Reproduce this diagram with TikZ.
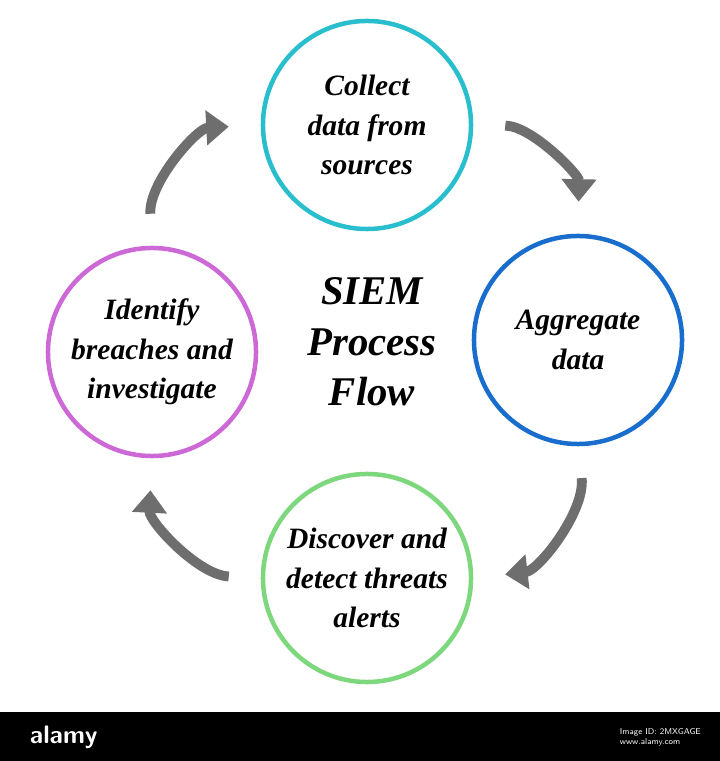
\documentclass[tikz,border=0pt]{standalone}
\usepackage{fontspec}
\setmainfont{Liberation Serif}
\usetikzlibrary{arrows.meta}
\definecolor{siemcyan}{RGB}{40,190,205}
\definecolor{siemblue}{RGB}{25,110,205}
\definecolor{siemgreen}{RGB}{125,215,125}
\definecolor{siemmagenta}{RGB}{205,105,215}
\definecolor{flowgray}{RGB}{110,110,110}
\tikzset{
  step/.style={circle, draw=#1, line width=3.2pt, minimum size=5.2cm, align=center,
    font=\fontsize{21}{28}\selectfont\bfseries\itshape},
  flow/.style={draw=flowgray, line width=7pt, -{Triangle[length=16pt,width=24pt]},
    shorten <=#1, shorten >=#1},
}
\begin{document}
\begin{tikzpicture}[x=0.025cm, y=0.025cm]
  \useasboundingbox (0,0) rectangle (720,761);
  \fill[white] (0,0) rectangle (720,761);
  % steps
  \node[step=siemcyan] (collect) at (367,636) {Collect\\data from\\sources};
  \node[step=siemblue] (aggregate) at (578,421) {Aggregate\\data};
  \node[step=siemgreen] (discover) at (367,183) {Discover and\\detect threats\\alerts};
  \node[step=siemmagenta] (identify) at (152,409) {Identify\\breaches and\\investigate};
  \node[font=\fontsize{29}{36}\selectfont\bfseries\itshape, align=center] (title) at (372,419)
    {SIEM\\Process\\Flow};
  % arrows
  \draw[flow=0.8cm] (identify.north) to[bend left=45] (collect.west);
  \draw[flow=0.8cm] (collect.east) to[bend left=45] (aggregate.north);
  \draw[flow=0.8cm] (aggregate.south) to[bend left=45] (discover.east);
  \draw[flow=0.8cm] (discover.west) to[bend left=45] (identify.south);
  % footer
  \fill[black] (0,0) rectangle (720,49);
  \node[white, font=\sffamily\bfseries\fontsize{18}{20}\selectfont, anchor=west] (brand) at (25,24) {alamy};
  \node[white, font=\sffamily\fontsize{6}{7}\selectfont, align=left, anchor=west] (ref) at (615,24)
    {Image ID: 2MXGAGE\\www.alamy.com};
\end{tikzpicture}
\end{document}
